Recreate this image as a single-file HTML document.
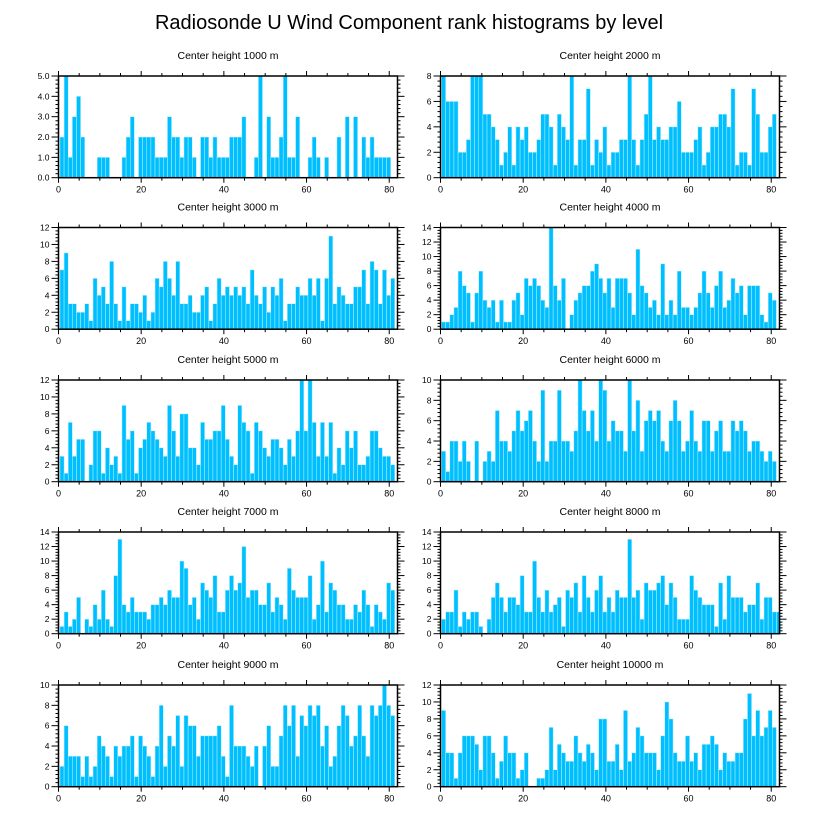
<!DOCTYPE html>
<html><head><meta charset="utf-8"><style>
html,body{margin:0;padding:0;background:#fff;}
svg{display:block;font-family:"Liberation Sans",sans-serif;}
</style></head><body>
<svg id="chart" width="818" height="824" viewBox="0 0 818 824">
<text x="409" y="29" text-anchor="middle" font-size="20" fill="#000">Radiosonde U Wind Component rank histograms by level</text>
</svg>
<script>
const levels = ["1000","2000","3000","4000","5000","6000","7000","8000","9000","10000"];
const yMaxes = [5,8,12,14,12,10,14,14,10,12];
const yStepsArr = [1,2,2,2,2,2,2,2,2,2];
const xTicks = [0,20,40,60,80];
const v1000 = [2,5,1,3,4,2,0,0,0,1,1,1,0,0,0,1,2,3,0,2,2,2,2,1,1,1,3,2,2,1,2,2,1,0,2,2,1,2,1,1,1,2,2,2,3,0,0,1,5,0,3,1,1,2,5,1,1,3,0,0,1,2,1,0,1,0,0,2,0,3,0,3,0,2,1,2,1,1,1,1];
const v2000 = [8,6,6,6,2,2,3,8,8,8,5,5,4,3,1,2,4,1,4,3,4,2,2,3,5,5,4,1,5,4,3,8,1,3,3,7,1,3,2,4,1,2,2,3,3,8,3,1,3,5,8,3,4,3,3,4,4,6,2,2,2,3,4,1,2,4,4,5,5,4,7,1,2,2,1,7,5,2,2,4,5];
const v3000 = [7,9,3,3,2,2,3,1,6,4,5,3,8,3,1,5,1,3,3,2,4,1,2,6,5,8,6,4,8,3,3,4,2,2,4,5,1,3,6,4,5,4,5,4,5,3,7,4,3,5,2,5,4,6,1,3,3,5,4,4,6,4,6,1,6,11,3,5,4,3,3,5,5,7,3,8,7,3,7,4,6];
const v4000 = [1,1,2,3,8,6,5,1,5,8,4,3,4,1,4,1,1,4,5,2,7,6,7,6,4,3,14,6,4,7,0,2,4,5,6,6,8,9,7,5,7,3,7,7,7,5,2,11,6,5,3,4,2,9,2,4,2,8,3,3,2,3,5,8,5,3,6,8,3,4,7,5,6,2,6,6,6,2,1,5,4];
const v5000 = [3,1,7,3,5,5,0,2,6,6,1,4,2,3,1,9,5,6,1,4,5,7,6,5,4,3,9,6,3,8,8,4,4,2,7,5,5,6,6,9,5,3,2,9,7,6,1,7,6,4,3,5,5,4,2,5,3,6,12,6,12,7,3,7,3,7,1,4,2,6,4,6,2,2,3,6,6,4,3,3,2];
const v6000 = [3,1,4,4,2,4,2,0,4,0,2,3,2,7,4,4,3,5,7,5,6,7,4,2,9,2,4,4,9,4,4,3,5,10,7,5,7,4,10,9,4,6,5,5,3,10,5,8,3,6,7,6,7,4,3,6,8,6,3,4,7,4,3,6,6,3,5,6,3,3,6,5,6,5,3,4,4,3,2,3,2];
const v7000 = [1,3,1,2,5,0,2,1,4,2,6,2,1,8,13,4,3,5,3,3,3,2,4,4,5,4,6,5,5,10,9,4,5,2,7,6,5,8,3,3,6,8,6,7,12,5,6,6,4,4,7,3,5,4,2,9,6,5,5,5,8,2,4,10,3,7,6,4,4,2,2,4,3,6,4,1,4,3,2,7,6];
const v8000 = [2,3,3,6,1,3,2,3,3,1,0,2,5,7,5,3,5,5,4,8,3,3,10,5,3,6,3,4,5,1,6,5,7,3,8,5,3,6,8,3,5,3,6,5,5,13,5,6,2,7,6,6,7,8,4,7,5,2,2,2,8,6,5,4,4,4,1,7,2,8,5,5,5,3,4,4,7,2,5,5,3,3];
const v9000 = [2,6,3,3,3,1,3,1,2,5,4,3,1,4,3,4,4,5,1,5,4,3,1,4,8,2,5,4,7,2,7,6,6,3,5,5,5,5,6,3,1,8,4,4,4,3,2,4,0,4,6,2,2,5,8,6,8,3,7,6,8,7,8,4,6,2,3,6,8,7,4,5,8,5,3,8,7,8,10,8,7];
const v10000 = [9,4,4,1,4,6,6,6,5,2,6,6,4,1,3,6,4,4,1,2,4,0,0,1,1,2,7,2,5,4,3,3,6,4,3,5,4,2,8,8,3,3,5,2,9,3,4,7,6,4,4,4,2,6,10,8,4,3,3,6,3,4,2,5,5,6,5,2,4,3,3,4,4,8,11,6,9,6,7,9,7];
const allVals = [v1000,v2000,v3000,v4000,v5000,v6000,v7000,v8000,v9000,v10000];

const NS = "http://www.w3.org/2000/svg";
const svg = document.getElementById("chart");
const PW = 339, PH = 101.7, XMAX = 82;
const lefts = [58.5, 440.5];
const tops = [76, 227.5, 380, 532, 685];
function mk(tag, attrs, parent){ const e=document.createElementNS(NS,tag); for(const k in attrs) e.setAttribute(k,attrs[k]); (parent||svg).appendChild(e); return e; }

for (let p=0;p<10;p++){
  const col=p%2, row=Math.floor(p/2);
  const L=lefts[col], T=tops[row], B=T+PH, R=L+PW;
  const vals=allVals[p], ymax=yMaxes[p], ystep=yStepsArr[p];
  const xs = v => L + v/XMAX*PW;
  const ys = v => B - v/ymax*PH;
  const g = mk("g",{});
  
  
  const t = mk("text",{x:(L+R)/2,y:T-17,"text-anchor":"middle","font-size":"10.5",fill:"#000"},g);
  t.textContent = "Center height " + levels[p] + " m";
  
  
  const off = col===0 ? 0.35 : 0.25;
  vals.forEach((v,i)=>{
    if (v<=0) return;
    const x0 = xs(i+off), x1 = xs(i+off+1);
    const r = mk("rect",{x:x0,y:ys(v),width:x1-x0,height:B-ys(v),fill:"#00BFFF",stroke:"#bfefff","stroke-width":"0.5"},g);
    
    
  });
  const fr = mk("rect",{x:L,y:T,width:PW,height:PH,fill:"none",stroke:"#000","stroke-width":"1.5"},g);
  
  
  // x ticks
  for (let xv=0; xv<=XMAX; xv+=5){
    const major = xv%20===0, len = major?5:3, x=xs(xv);
    mk("line",{x1:x,x2:x,y1:B,y2:B+len,stroke:"#000","stroke-width":"1"},g);
    mk("line",{x1:x,x2:x,y1:T,y2:T-len,stroke:"#000","stroke-width":"1"},g);
  }
  xTicks.forEach(xv=>{
    const tl = mk("text",{x:xs(xv),y:B+15,"text-anchor":"middle","font-size":"9",fill:"#000"},g);
    tl.textContent = String(xv);
    
    
  });
  // y ticks
  const minor = ystep/5;
  for (let k=0; k<=Math.round(ymax/minor); k++){
    const yv=k*minor, y=ys(yv), major = k%5===0, len = major?7:3;
    mk("line",{x1:L,x2:L-len,y1:y,y2:y,stroke:"#000","stroke-width":"1"},g);
    mk("line",{x1:R,x2:R+len,y1:y,y2:y,stroke:"#000","stroke-width":"1"},g);
  }
  for (let yv=0; yv<=ymax+1e-9; yv+=ystep){
    const tl = mk("text",{x:L-9,y:ys(yv)+3,"text-anchor":"end","font-size":"8.5",fill:"#000"},g);
    tl.textContent = p===0 ? yv.toFixed(1) : String(yv);
    
    
  }
}
</script>
</body></html>
